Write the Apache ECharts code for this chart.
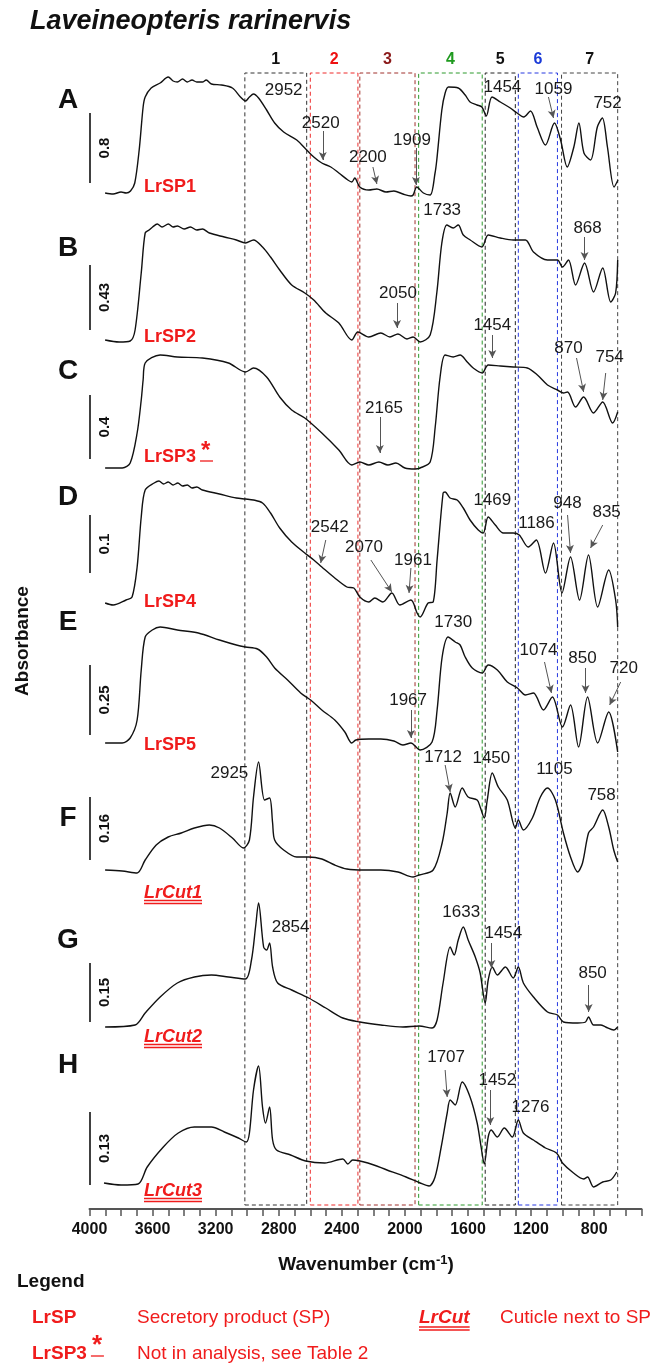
<!DOCTYPE html>
<html><head><meta charset="utf-8">
<script src="https://cdn.jsdelivr.net/npm/echarts@6/dist/echarts.min.js"></script>
<style>html,body{margin:0;padding:0;background:#fff}#c{width:665px;height:1365px}</style>
</head><body><div id="c"></div>
<script>
const FONT = '"Liberation Sans", Arial, Helvetica, sans-serif';

// ---------- x axis ----------
const xTickLabels = [4000,3600,3200,2800,2400,2000,1600,1200,800];
const xTickValues = [4000,3900,3800,3700,3600,3500,3400,3300,3200,3100,3000,2900,2800,2700,2600,2500,2400,2300,2200,2100,2000,1900,1800,1700,1600,1500,1400,1300,1200,1100,1000,900,800,700,600,500];

// ---------- spectral regions (boxes) ----------
const boxNames  = ['1','2','3','4','5','6','7'];
const boxFrom   = [3015,2600,2286,1913,1491,1281,1007];
const boxTo     = [2623,2298,1936,1510,1300,1033,651];

// ---------- spectra: [wavenumber, relative absorbance] ----------
const spectrumA = [[3901,7],[3850,6],[3800,8],[3768,7],[3740,9],[3713,17],[3685,50],[3660,93],[3647,103],[3609,112],[3552,117],[3501,123],[3470,119],[3443,118],[3410,121],[3380,118],[3350,120],[3320,118],[3284,118],[3260,120],[3227,116],[3163,115],[3094,112],[3043,103],[3011,99],[2986,103],[2960,106],[2928,102],[2877,90],[2826,77],[2769,68],[2686,60],[2635,52],[2578,43],[2527,37],[2470,33],[2419,27],[2362,20],[2337,18],[2318,22],[2286,13],[2229,10],[2178,11],[2120,8],[2070,9],[2013,6],[1962,4],[1948,5],[1925,13],[1883,7],[1840,5],[1809,27],[1798,40],[1766,90],[1745,107],[1724,113],[1662,112],[1618,105],[1587,98],[1543,95],[1512,93],[1484,84],[1448,103],[1395,98],[1332,92],[1289,87],[1247,83],[1204,89],[1162,73],[1109,55],[1052,77],[1013,60],[971,33],[929,53],[897,77],[865,47],[823,40],[780,73],[748,82],[716,53],[674,13],[649,20]];
const spectrumB = [[3901,5],[3812,3],[3742,4],[3711,15],[3672,72],[3647,112],[3622,115],[3600,118],[3570,121],[3540,118],[3500,121],[3470,118],[3443,119],[3400,116],[3360,118],[3320,115],[3284,116],[3240,112],[3145,108],[3069,105],[3011,102],[2960,105],[2903,98],[2852,88],[2794,75],[2718,60],[2635,52],[2578,45],[2502,32],[2419,22],[2337,5],[2299,13],[2229,8],[2153,12],[2095,8],[2044,11],[1987,6],[1948,8],[1904,3],[1840,10],[1798,52],[1766,102],[1734,120],[1694,117],[1662,120],[1630,110],[1586,105],[1512,98],[1472,110],[1395,107],[1313,105],[1236,105],[1185,93],[1096,85],[1033,85],[1001,78],[963,85],[918,60],[861,82],[804,53],[746,77],[695,43],[664,52],[651,85]];
const spectrumC = [[3901,4],[3792,4],[3742,9],[3698,39],[3672,72],[3660,92],[3647,109],[3552,117],[3443,115],[3284,114],[3119,109],[3011,100],[2960,104],[2877,95],[2794,75],[2718,62],[2635,54],[2527,39],[2419,22],[2337,7],[2286,10],[2229,7],[2165,10],[2108,7],[2057,9],[2000,4],[1936,3],[1904,4],[1840,10],[1808,45],[1777,95],[1745,117],[1694,115],[1650,117],[1605,110],[1567,104],[1510,99],[1472,107],[1395,106],[1313,105],[1224,104],[1160,97],[1096,87],[1033,82],[995,79],[969,80],[918,65],[867,75],[804,59],[746,70],[683,49],[651,60]];
const spectrumD = [[3901,27],[3850,25],[3768,30],[3730,33],[3698,63],[3672,113],[3647,140],[3590,147],[3560,149],[3530,146],[3501,148],[3470,145],[3440,147],[3410,144],[3380,145],[3350,142],[3320,143],[3284,140],[3176,136],[3069,132],[3011,131],[2960,130],[2903,127],[2852,117],[2794,102],[2718,88],[2635,77],[2578,70],[2527,63],[2445,52],[2368,43],[2324,42],[2286,33],[2229,28],[2191,32],[2140,28],[2083,37],[2032,25],[1962,30],[1923,17],[1904,13],[1853,27],[1821,28],[1796,70],[1758,137],[1745,138],[1714,132],[1669,130],[1630,122],[1587,110],[1535,100],[1504,97],[1472,113],[1427,105],[1376,97],[1313,97],[1275,95],[1218,83],[1167,90],[1109,57],[1058,87],[1004,37],[950,73],[893,30],[836,75],[778,23],[708,60],[664,30],[651,3]];
const spectrumE = [[3901,12],[3793,12],[3742,17],[3698,35],[3672,85],[3647,118],[3602,125],[3552,128],[3443,125],[3310,122],[3176,115],[3069,110],[3011,108],[2935,106],[2877,98],[2826,87],[2744,75],[2661,62],[2598,55],[2527,45],[2445,35],[2381,23],[2337,12],[2311,15],[2229,16],[2153,16],[2070,14],[2013,10],[1962,12],[1904,5],[1828,13],[1796,45],[1764,98],[1726,118],[1681,113],[1650,110],[1618,98],[1573,87],[1510,82],[1472,90],[1414,85],[1351,73],[1287,67],[1236,60],[1185,62],[1122,45],[1065,58],[1001,28],[950,50],[899,8],[842,58],[778,12],[708,43],[651,3]];
const spectrumF = [[3901,10],[3793,9],[3698,7],[3647,20],[3577,35],[3501,43],[3418,47],[3335,52],[3240,55],[3176,52],[3094,42],[3024,32],[2986,40],[2960,83],[2928,118],[2890,80],[2858,82],[2839,57],[2826,40],[2769,30],[2686,23],[2610,23],[2527,21],[2445,15],[2368,11],[2260,10],[2153,10],[2044,8],[1948,3],[1910,5],[1821,10],[1764,37],[1732,67],[1713,87],[1681,73],[1637,92],[1599,83],[1542,80],[1523,73],[1497,62],[1478,80],[1446,107],[1408,93],[1351,80],[1300,52],[1281,60],[1249,50],[1192,62],[1141,83],[1096,92],[1046,80],[995,47],[950,23],[905,8],[874,17],[836,47],[804,53],[746,70],[708,53],[676,30],[651,18]];
const spectrumG = [[3901,8],[3711,10],[3647,22],[3552,38],[3443,52],[3335,58],[3227,60],[3119,58],[3011,56],[2973,75],[2947,108],[2928,132],[2896,88],[2877,85],[2858,92],[2839,68],[2807,52],[2718,45],[2610,37],[2502,27],[2394,17],[2286,13],[2153,10],[2013,8],[1910,9],[1828,7],[1796,15],[1758,52],[1713,88],[1688,80],[1662,95],[1630,108],[1599,95],[1554,78],[1523,62],[1491,32],[1472,55],[1446,68],[1414,60],[1363,68],[1313,57],[1281,68],[1249,52],[1185,38],[1096,23],[1033,20],[995,13],[905,12],[855,13],[836,18],[804,10],[759,10],[727,8],[676,5],[651,8]];
const spectrumH = [[3908,9],[3800,7],[3692,8],[3634,25],[3532,45],[3437,59],[3335,65],[3227,65],[3145,60],[3056,54],[3005,50],[2986,59],[2960,102],[2928,126],[2903,85],[2884,69],[2858,85],[2839,52],[2814,42],[2725,37],[2629,31],[2508,29],[2394,33],[2362,28],[2331,32],[2235,29],[2114,22],[1993,15],[1904,9],[1847,6],[1809,15],[1770,45],[1732,79],[1713,92],[1681,87],[1637,110],[1587,95],[1542,69],[1517,45],[1497,28],[1472,55],[1453,62],[1414,55],[1370,64],[1319,55],[1281,72],[1249,59],[1185,52],[1109,44],[1039,39],[1001,29],[931,19],[867,13],[842,15],[804,5],[746,10],[695,12],[657,20]];

// ---------- panel letters, sample names, scale bars ----------
const panelLetters = ['A','B','C','D','E','F','G','H'];
const sampleNames  = ['LrSP1','LrSP2','LrSP3','LrSP4','LrSP5','LrCut1','LrCut2','LrCut3'];
const scaleLabels  = ['0.8','0.43','0.4','0.1','0.25','0.16','0.15','0.13'];
const scaleBars    = [[17,87],[15,80],[13,77],[57,115],[20,90],[20,83],[13,72],[7,80]];

// ---------- peak labels: [text, wavenumber, height] ----------
const peaksA = [['2952',2769,110],['2520',2534,77],['2200',2235,43],['1909',1955,60],['1454',1382,113],['1059',1058,111],['752',715,97]];
const peaksB = [['1733',1764,135],['868',842,117],['2050',2044,52]];
const peaksC = [['1454',1446,147],['870',963,124],['754',702,115],['2165',2133,64]];
const peaksD = [['2542',2477,103],['2070',2260,83],['1961',1949,70],['1469',1446,130],['1186',1166,107],['948',969,127],['835',721,118]];
const peaksE = [['1730',1694,133],['1074',1153,105],['850',874,97],['720',613,87],['1967',1980,55]];
const peaksF = [['2925',3113,107],['1712',1758,123],['1450',1452,122],['1105',1052,111],['758',753,85]];
const peaksG = [['2854',2725,108],['1633',1643,123],['1454',1376,102],['850',810,62]];
const peaksH = [['1707',1739,135],['1452',1414,112],['1276',1204,85]];

// ---------- arrows: [fromWn, fromH, toWn, toH] ----------
const arrowsA = [[2521,69,2521,40],[2203,33,2178,16],[1930,52,1930,15],[1090,103,1058,82]];
const arrowsB = [[861,108,861,85],[2050,42,2050,17]];
const arrowsC = [[1446,137,1446,114],[912,114,867,80],[727,99,746,72],[2159,55,2159,19]];
const arrowsD = [[2502,90,2534,67],[2216,70,2083,38],[1962,62,1974,37],[969,115,950,77],[746,105,823,82]];
const arrowsE = [[1115,93,1071,62],[855,87,855,62],[632,73,702,50],[1962,45,1962,17]];
const arrowsF = [[1745,115,1713,88]];
const arrowsG = [[1452,92,1452,67],[835,50,835,23]];
const arrowsH = [[1745,122,1732,95],[1459,102,1459,67]];

// ---------- layout (pixels) ----------
const W = 665, Hh = 1365;
const PLOT_LEFT = 89.5, PLOT_RIGHT = 23.5, PLOT_TOP = 73, PLOT_H = 1136;
const panelBottoms = [200,345,472,630,755,880,1035,1192];
const PANEL_H = 160;
const letterY = [100,248,371,497,622,818,940,1065];
const sampleY = [187,337,457,602,745,893,1037,1191];
const RED = '#f01c1c';
const boxColors = ['#333333','#ee2a2a','#a0302c','#2c9a2c','#222222','#2638e0','#444444'];
const boxLabelColors = ['#111111','#ee1111','#8b1a1a','#1f9a1f','#111111','#1a3ad8','#111111'];

const spectra = [spectrumA,spectrumB,spectrumC,spectrumD,spectrumE,spectrumF,spectrumG,spectrumH];
const peakSets = [peaksA,peaksB,peaksC,peaksD,peaksE,peaksF,peaksG,peaksH];
const arrowSets = [arrowsA,arrowsB,arrowsC,arrowsD,arrowsE,arrowsF,arrowsG,arrowsH];

const grids = [{left:PLOT_LEFT,right:PLOT_RIGHT,top:PLOT_TOP,height:PLOT_H}];
const xAxes = [{
  gridIndex:0,type:'value',min:500,max:4000,inverse:true,
  axisLine:{show:true,onZero:false,lineStyle:{color:'#555',width:2}},
  axisTick:{show:true,customValues:xTickValues,length:7,lineStyle:{color:'#555',width:1.5}},
  axisLabel:{show:true,customValues:xTickLabels,formatter:v=>String(v),fontSize:16,fontWeight:'bold',color:'#111',margin:13,fontFamily:FONT},
  splitLine:{show:false}
}];
const yAxes = [{gridIndex:0,type:'value',min:0,max:PLOT_H,show:false}];
const series = [];

// boxes
series.push({
  type:'line',xAxisIndex:0,yAxisIndex:0,data:[],silent:true,
  markArea:{silent:true,data:boxNames.map((n,i)=>[
    {xAxis:boxFrom[i],yAxis:4,
     itemStyle:{color:'rgba(0,0,0,0)',borderColor:boxColors[i],borderWidth:1,borderType:[4,3]},
     label:{show:true,position:'top',distance:5,formatter:n,color:boxLabelColors[i],fontSize:16,fontWeight:'bold',fontFamily:FONT}},
    {xAxis:boxTo[i],yAxis:PLOT_H}
  ])}
});

spectra.forEach((sp,i)=>{
  const gi = i+1;
  grids.push({left:PLOT_LEFT,right:PLOT_RIGHT,top:panelBottoms[i]-PANEL_H,height:PANEL_H});
  xAxes.push({gridIndex:gi,type:'value',min:500,max:4000,inverse:true,show:false});
  yAxes.push({gridIndex:gi,type:'value',min:0,max:PANEL_H,show:false});
  const mp = peakSets[i].map(p=>({
    coord:[p[1],p[2]],symbol:'circle',symbolSize:1,itemStyle:{color:'rgba(0,0,0,0)'},
    label:{show:true,position:'inside',formatter:p[0],color:'#1a1a1a',fontSize:17,fontFamily:FONT}
  }));
  const sb = scaleBars[i];
  mp.push({coord:[3905,(sb[0]+sb[1])/2],symbol:'circle',symbolSize:1,itemStyle:{color:'rgba(0,0,0,0)'},
    label:{show:true,position:'inside',rotate:90,formatter:scaleLabels[i],color:'#111',fontSize:15,fontWeight:'bold',fontFamily:FONT}});
  const ml = arrowSets[i].map(a=>[
    {coord:[a[0],a[1]],symbol:'none'},
    {coord:[a[2],a[3]],symbol:'arrow',symbolSize:[6,8]}
  ]);
  ml.push([
    {coord:[4000,sb[0]],symbol:'none',lineStyle:{color:'#111',width:1.6,type:'solid'}},
    {coord:[4000,sb[1]],symbol:'none'}
  ]);
  series.push({
    type:'line',xAxisIndex:gi,yAxisIndex:gi,data:sp,showSymbol:false,smooth:0.3,
    lineStyle:{color:'#111',width:1.4},silent:true,z:3,
    markPoint:{silent:true,data:mp,animation:false},
    markLine:{silent:true,data:ml,label:{show:false},lineStyle:{color:'#555',width:1,type:'solid'},animation:false}
  });
});

// ---------- text graphics ----------
const ctx = document.createElement('canvas').getContext('2d');
function tw(t,f){ctx.font=f;return ctx.measureText(t).width;}
function txt(t,x,y,font,fill,align,extra){
  return Object.assign({type:'text',x:x,y:y,silent:true,z:10,
    style:{text:t,font:font,fill:fill,align:align||'left',textAlign:align||'left',verticalAlign:'middle',textVerticalAlign:'middle'}},extra||{});
}
function uline(x,y,w,col){
  return {type:'line',silent:true,z:10,shape:{x1:x,y1:y,x2:x+w,y2:y},style:{stroke:col,lineWidth:1.3}};
}
const g = [];
g.push(txt('Laveineopteris rarinervis',30,22,'italic bold 27px '+FONT,'#111'));
panelLetters.forEach((L,i)=>g.push(txt(L,68,letterY[i],'bold 28px '+FONT,'#111','center')));
sampleNames.forEach((s,i)=>{
  const cut = s.indexOf('Cut')>=0;
  const f = (cut?'italic ':'')+'bold 18px '+FONT;
  const x = 144, y = sampleY[i];
  g.push(txt(s,x,y,f,RED));
  if(cut){
    const w = tw(s,f);
    g.push(uline(x,y+7.5,w,RED)); g.push(uline(x,y+10.5,w,RED));
  }
  if(s==='LrSP3'){
    const w = tw(s,f);
    g.push(txt('*',x+w+5,y-6,'bold 24px '+FONT,RED));
    g.push(uline(x+w+4,y+4,13,RED));
  }
});
g.push(txt('Absorbance',23,641,'bold 19px '+FONT,'#111','center',{rotation:Math.PI/2}));
g.push({type:'text',x:366,y:1265,silent:true,z:10,style:{
  text:'{a|Wavenumber (cm}{s|-1}{a|)}',align:'center',textAlign:'center',verticalAlign:'middle',textVerticalAlign:'middle',
  rich:{a:{font:'bold 19px '+FONT,fill:'#111',color:'#111'},s:{font:'bold 13px '+FONT,fill:'#111',color:'#111',verticalAlign:'top',padding:[0,0,10,0]}}
}});
g.push(txt('Legend',17,1282,'bold 19px '+FONT,'#111'));
const LF = '19px '+FONT, LB = 'bold 19px '+FONT, LBI = 'italic bold 19px '+FONT;
g.push(txt('LrSP',32,1318,LB,RED));
g.push(txt('Secretory product (SP)',137,1318,LF,RED));
g.push(txt('LrCut',419,1318,LBI,RED));
const wc = tw('LrCut',LBI);
g.push(uline(419,1327,wc,RED)); g.push(uline(419,1330,wc,RED));
g.push(txt('Cuticle next to SP',500,1318,LF,RED));
g.push(txt('LrSP3',32,1354,LB,RED));
const w3 = tw('LrSP3',LB);
g.push(txt('*',32+w3+5,1346,'bold 26px '+FONT,RED));
g.push(uline(32+w3+4,1356,13,RED));
g.push(txt('Not in analysis, see Table 2',137,1354,LF,RED));

const chart = echarts.init(document.getElementById('c'),null,{renderer:'canvas',width:W,height:Hh});
chart.setOption({
  backgroundColor:'#ffffff',animation:false,
  grid:grids,xAxis:xAxes,yAxis:yAxes,series:series,graphic:{elements:g}
});
</script></body></html>
